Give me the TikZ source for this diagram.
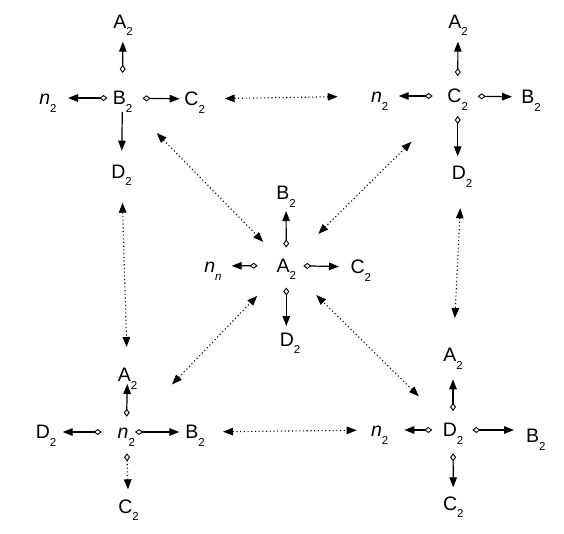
\documentclass[tikz,border=0pt]{standalone}
\usepackage{fontspec}
\setmainfont{Liberation Sans}
\usepackage{tikz}
\usetikzlibrary{arrows.meta}
\newcommand{\sbs}[1]{\raisebox{-7.5pt}{\fontsize{11.5}{12}\selectfont #1}}

\begin{document}
\begin{tikzpicture}[x=1pt, y=-1pt,
    lbl/.style={inner sep=0pt, text height=13pt, text depth=0pt, font=\fontsize{19.5}{21}\selectfont},
    seta/.style={line width=1.2pt, {Diamond[open, length=8pt, width=6pt, line width=0.9pt]}-{Triangle[length=10pt, width=7.5pt]}},
    setaS/.style={line width=1.2pt, -{Triangle[length=10pt, width=7.5pt]}},
    pont/.style={line width=1.1pt, dash pattern=on 1.1pt off 2.6pt, {Triangle[length=10pt, width=7.5pt]}-{Triangle[length=10pt, width=7.5pt]}}
  ]
    \useasboundingbox (0,0) rectangle (564,533);

    % top left
    \node[lbl] (tlB) at (122.5,98) {B\sbs{2}};
    \node[lbl] (tlA) at (123,21.7) {A\sbs{2}};
    \node[lbl] (tln) at (48,98) {\textit{n}\sbs{2}};
    \node[lbl] (tlC) at (194.7,99) {C\sbs{2}};
    \node[lbl] (tlD) at (121.5,171.7) {D\sbs{2}};
    \draw[seta, shorten <=25pt, shorten >=20pt] (tlB.center) -- (tlA.center);
    \draw[seta, shorten <=15pt, shorten >=20pt] (tlB.center) -- (tln.center);
    \draw[seta, shorten <=20pt, shorten >=15pt] (tlB.center) -- (tlC.center);
    \draw[setaS, shorten <=14pt, shorten >=21pt] (tlB.center) -- (tlD.center);

    % top right
    \node[lbl] (trC) at (457.7,96) {C\sbs{2}};
    \node[lbl] (trA) at (458,21.7) {A\sbs{2}};
    \node[lbl] (trn) at (379.7,96) {\textit{n}\sbs{2}};
    \node[lbl] (trB) at (531,97) {B\sbs{2}};
    \node[lbl] (trD) at (462,173.3) {D\sbs{2}};
    \draw[seta, shorten <=20pt, shorten >=20pt] (trC.center) -- (trA.center);
    \draw[seta, shorten <=25pt, shorten >=19pt] (trC.center) -- (trn.center);
    \draw[seta, shorten <=20pt, shorten >=19pt] (trC.center) -- (trB.center);
    \draw[seta, shorten <=20pt, shorten >=17pt] (trC.center) -- (trC.center |- trD.center);

    % middle
    \node[lbl] (cA) at (286.3,265.5) {A\sbs{2}};
    \node[lbl] (cB) at (286,193) {B\sbs{2}};
    \node[lbl] (cn) at (213,266) {\textit{n}\sbs{\textit{n}}};
    \node[lbl] (cC) at (360.8,267) {C\sbs{2}};
    \node[lbl] (cD) at (290,339.5) {D\sbs{2}};
    \draw[seta, shorten <=18pt, shorten >=18pt] (cA.center) -- (cB.center);
    \draw[seta, shorten <=28.6pt, shorten >=18.7pt] (cA.center) -- (cn.center);
    \draw[seta, shorten <=17pt, shorten >=21.8pt] (cA.center) -- (cC.center);
    \draw[seta, shorten <=22pt, shorten >=13.5pt] (cA.center) -- (cA.center |- cD.center);

    % bottom left
    \node[lbl] (bln) at (126.3,432) {\textit{n}\sbs{2}};
    \node[lbl] (blA) at (127.5,375) {A\sbs{2}};
    \node[lbl] (blD) at (46,432) {D\sbs{2}};
    \node[lbl] (blB) at (195,432) {B\sbs{2}};
    \node[lbl] (blC) at (128.5,506.7) {C\sbs{2}};
    \draw[seta, shorten <=15.3pt, shorten >=9pt] (bln.center) -- (blA.center);
    \draw[seta, shorten <=24.6pt, shorten >=16.7pt] (bln.center) -- (blD.center);
    \draw[seta, shorten <=8.7pt, shorten >=15.7pt] (bln.center) -- (blB.center);
    \draw[seta, dash pattern=on 1.1pt off 2.6pt, shorten <=21.3pt, shorten >=17.4pt] (bln.center) -- (blC.center);

    % bottom right
    \node[lbl] (brD) at (453,430) {D\sbs{2}};
    \node[lbl] (brA) at (453,355) {A\sbs{2}};
    \node[lbl] (brn) at (379.7,430) {\textit{n}\sbs{2}};
    \node[lbl] (brB) at (535.7,436) {B\sbs{2}};
    \node[lbl] (brC) at (453.3,503.7) {C\sbs{2}};
    \draw[seta, shorten <=19pt, shorten >=24.3pt] (brD.center) -- (brA.center);
    \draw[seta, shorten <=20.7pt, shorten >=24.6pt] (brD.center) -- (brn.center);
    \draw[seta, shorten <=19.3pt, shorten >=21.7pt] (brD.center) -- (brD.center -| brB.center);
    \draw[seta, shorten <=23.3pt, shorten >=16.4pt] (brD.center) -- (brC.center);

    % dotted links
    \draw[pont, shorten <=30pt, shorten >=42pt] (tlC.center) -- (trn.center);
    \draw[pont, shorten <=31pt, shorten >=28pt] (tlD.center) -- (blA.center);
    \draw[pont, shorten <=35pt, shorten >=37pt] (trD.center) -- (brA.center);
    \draw[pont, shorten <=28pt, shorten >=23pt] (blB.center) -- (brn.center);
    \draw[pont, shorten <=49pt, shorten >=33pt] (tlB.center) -- (cA.center);
    \draw[pont, shorten <=65pt, shorten >=45pt] (trC.center) -- (cA.center);
    \draw[pont, shorten <=66pt, shorten >=42pt] (bln.center) -- (cA.center);
    \draw[pont, shorten <=48pt, shorten >=42pt] (brD.center) -- (cA.center);
  \end{tikzpicture}
\end{document}
